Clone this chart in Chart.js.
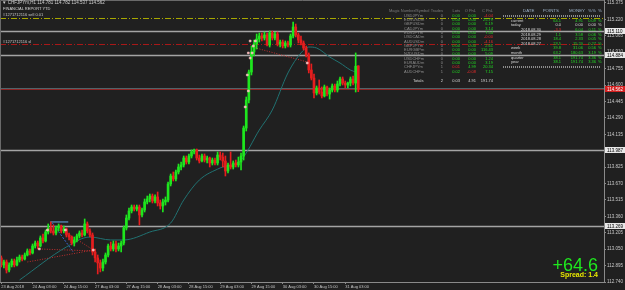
<!DOCTYPE html>
<html>
<head>
<meta charset="utf-8">
<script src="https://cdn.jsdelivr.net/npm/chart.js@4.4.0/dist/chart.umd.min.js"></script>
<style>
  html, body { margin:0; padding:0; background:#202020; }
  #wrap { position:relative; width:625px; height:290px; overflow:hidden; font-family:"Liberation Sans", Arial, sans-serif; }
  #wrap canvas { position:absolute; left:0; top:0; }
  .t { position:absolute; white-space:nowrap; line-height:1; }
  .sep { position:absolute; height:2px; background:repeating-linear-gradient(90deg, #8c8c8c 0 1px, transparent 1px 2px); }
</style>
</head>
<body>
<div id="wrap"><canvas id="chart" width="625" height="290"></canvas></div>
<script>
// ---- data ----
const tickLabels = ['23 Aug 2018','24 Aug 03:00','24 Aug 15:00','27 Aug 03:00','27 Aug 15:00','28 Aug 03:00',
                    '28 Aug 15:00','29 Aug 03:00','29 Aug 15:00','30 Aug 03:00','30 Aug 15:00','31 Aug 03:00'];
const labelBars = [0,12,24,36,48,60,72,84,96,108,120,132];
const priceTicks = [115.375,115.220,115.065,114.910,114.755,114.600,114.445,114.290,114.135,113.980,
                    113.825,113.670,113.515,113.360,113.205,113.050,112.895,112.740];

const opens = [112.967,112.901,112.929,112.853,112.901,112.938,112.901,112.948,112.976,112.957,
  112.995,113.033,113.014,113.080,113.108,113.080,113.156,113.127,113.212,113.250,
  113.222,113.203,113.250,113.269,113.222,113.241,113.184,113.165,113.108,113.137,
  113.175,113.203,113.184,113.288,113.222,113.184,113.023,112.967,112.920,112.872,
  112.929,112.995,113.080,113.052,113.099,113.052,113.080,113.108,113.250,113.344,
  113.411,113.448,113.429,113.448,113.373,113.420,113.496,113.524,113.552,113.505,
  113.543,113.486,113.458,113.496,113.514,113.666,113.741,113.713,113.779,113.826,
  113.845,113.911,113.873,113.930,113.968,113.987,113.911,113.883,113.930,113.892,
  113.911,113.864,113.892,113.864,113.939,113.920,113.883,113.788,113.845,113.826,
  113.864,113.845,113.873,113.930,114.194,114.459,114.723,114.912,114.988,115.035,
  115.063,115.044,115.073,114.978,115.091,115.044,115.082,114.988,115.006,114.969,
  114.997,114.978,115.063,115.148,115.073,115.025,114.997,114.950,114.884,114.742,
  114.666,114.525,114.572,114.534,114.497,114.582,114.515,114.553,114.591,114.553,
  114.610,114.657,114.619,114.600,114.619,114.657,114.619,114.781];
const highs = [112.986,112.948,112.948,112.920,112.957,112.957,112.976,112.995,112.995,113.014,
  113.052,113.052,113.099,113.127,113.127,113.175,113.193,113.231,113.288,113.307,
  113.278,113.269,113.288,113.278,113.269,113.250,113.203,113.175,113.165,113.193,
  113.222,113.231,113.335,113.307,113.241,113.203,113.052,112.995,112.948,112.957,
  113.014,113.099,113.118,113.127,113.127,113.108,113.127,113.269,113.373,113.439,
  113.467,113.467,113.467,113.467,113.439,113.524,113.552,113.571,113.571,113.562,
  113.590,113.514,113.524,113.543,113.684,113.760,113.779,113.798,113.854,113.873,
  113.930,113.930,113.949,113.987,113.996,113.996,113.939,113.949,113.949,113.930,
  113.920,113.911,113.911,113.968,113.968,113.958,113.930,113.864,113.968,113.883,
  113.892,113.920,113.958,114.213,114.487,114.742,114.969,115.025,115.082,115.091,
  115.091,115.101,115.091,115.110,115.110,115.101,115.101,115.025,115.025,115.016,
  115.016,115.082,115.195,115.176,115.091,115.063,115.016,114.969,114.903,114.799,
  114.704,114.591,114.648,114.582,114.600,114.591,114.572,114.610,114.610,114.638,
  114.676,114.676,114.638,114.629,114.676,114.685,114.903,114.782];
const lows = [112.882,112.872,112.825,112.835,112.882,112.882,112.891,112.929,112.938,112.948,
  112.986,112.995,113.005,113.061,113.052,113.071,113.108,113.118,113.193,113.203,
  113.184,113.184,113.222,113.203,113.203,113.165,113.137,113.090,113.080,113.118,
  113.156,113.165,113.175,113.203,113.165,112.995,112.929,112.816,112.835,112.844,
  112.910,112.976,113.033,113.033,113.023,113.033,113.023,113.090,113.231,113.326,
  113.392,113.411,113.411,113.278,113.354,113.401,113.477,113.496,113.486,113.486,
  113.458,113.429,113.401,113.467,113.496,113.647,113.694,113.694,113.760,113.798,
  113.826,113.854,113.854,113.911,113.949,113.892,113.864,113.873,113.873,113.864,
  113.826,113.845,113.845,113.845,113.892,113.826,113.741,113.769,113.807,113.807,
  113.826,113.826,113.798,113.892,114.166,114.430,114.695,114.874,114.940,115.006,
  115.016,115.025,114.969,114.959,115.025,115.025,114.969,114.959,114.950,114.950,
  114.959,114.959,115.044,115.054,114.997,114.978,114.931,114.865,114.714,114.648,
  114.478,114.506,114.515,114.478,114.487,114.497,114.468,114.534,114.534,114.534,
  114.591,114.600,114.572,114.572,114.591,114.600,114.534,114.537];
const closes = [112.901,112.929,112.853,112.901,112.938,112.901,112.948,112.976,112.957,112.995,
  113.033,113.014,113.080,113.108,113.080,113.156,113.127,113.212,113.250,113.222,
  113.203,113.250,113.269,113.222,113.241,113.184,113.165,113.108,113.137,113.175,
  113.203,113.184,113.288,113.222,113.184,113.023,112.967,112.920,112.872,112.929,
  112.995,113.080,113.052,113.099,113.052,113.080,113.108,113.250,113.344,113.411,
  113.448,113.429,113.448,113.373,113.420,113.496,113.524,113.552,113.505,113.543,
  113.486,113.458,113.496,113.514,113.666,113.741,113.713,113.779,113.826,113.845,
  113.911,113.873,113.930,113.968,113.987,113.911,113.883,113.930,113.892,113.911,
  113.864,113.892,113.864,113.939,113.920,113.883,113.788,113.845,113.826,113.864,
  113.845,113.873,113.930,114.194,114.459,114.723,114.912,114.988,115.035,115.063,
  115.044,115.073,114.978,115.091,115.044,115.082,114.988,115.006,114.969,114.997,
  114.978,115.063,115.148,115.073,115.025,114.997,114.950,114.884,114.742,114.666,
  114.525,114.572,114.534,114.497,114.582,114.515,114.553,114.591,114.553,114.610,
  114.657,114.619,114.600,114.619,114.657,114.619,114.778,114.562];

// moving average, read at a few bars
const maBars   = [7, 25, 34, 42, 47, 57, 65, 70, 76, 84, 92, 99, 104, 110, 115, 118, 121, 126, 130, 134, 137];
const maValues = [112.759,113.071,113.165,113.137,113.137,113.212,113.297,113.514,113.703,113.817,113.892,
                  114.175,114.364,114.714,114.903,114.959,114.950,114.865,114.808,114.742,114.714];

// horizontal levels
const sellOrder = 115.233, stopLoss = 114.988;
const hLevels = [115.110, 114.884, 113.987, 113.269];
const bid = 114.562, ask = 114.576;

// closed trades: [bar, price, bar, price]
const lossLines = [[14.6,113.052,35.3,113.033],[10.0,112.929,35.3,113.042],[24.6,113.212,35.3,113.042],[96.3,114.959,117.4,114.818]];
const buyLines = [[19.6,113.297,27.6,113.023]];
const flatLines = [[18.8,113.307,25.7,113.307]];
const markBars   = [14.6,17.7,24.6,35.3,93.6,94.8,94.4,95.5,96.3,94.8,96.7,95.5,97.5,117.4];
const markPrices = [113.052,113.231,113.231,113.042,114.393,114.544,114.695,114.855,114.903,114.903,114.969,115.016,115.016,114.808];

// report tables
const symbols = ['USDJPYm','EURUSDm','GBPUSDm','CADJPYm','EURJPYm','USDCADm','AUDUSDm','GBPJPYm','EURGBPm','NZDUSDm','USDCHFm','EURAUDm','CHFJPYm','AUDCHFm'];
const trades = [0,0,0,0,0,0,0,0,0,0,0,0,1,1];
const lots = [0,0,0,0,0,0,0,0,0,0,0,0,0.01,0.02];
const lotSide = ['','','','','','','','','','','','','sell','buy'];
const openPnl = [0,0,0,0,0,0,0,0,0,0,0,0,4.99,-0.08];
const closedPnl = [-4.04,25.79,6.19,3.14,7.54,-0.001,-4.16,2.61,116.43,5.09,1.24,3.19,20.34,7.15];
const totals = ['Totals','2','0.03','4.91','191.74'];

const periods = ['current','today','2018.08.30','2018.08.29','2018.08.28','2018.08.27','week','month','quarter','year'];
const points = [64.1,0.0,-3.3,1.1,18.4,23.5,39.8,63.2,38.1,38.1];
const money = [4.91,0.00,6.04,3.58,2.33,15.20,31.06,180.63,191.74,191.74];
const percent = [0.09,0.00,0.11,0.06,0.05,0.27,0.56,3.19,3.36,3.36];

const profitPoints = '+64.6';
const spread = 'Spread: 1.4';

// ---- drawing ----
const FONT = '"Liberation Sans", Arial, sans-serif';
const BULL = '#1ee61e', BEAR = '#e61e1e';
const bars = opens.map((_, i) => i);
const candleColor = c => (c.dataIndex !== undefined && closes[c.dataIndex] < opens[c.dataIndex]) ? BEAR : BULL;
const seg = (a, color, dash) => ({
  type: 'line', data: [{x: a[0], y: a[1]}, {x: a[2], y: a[3]}],
  borderColor: color, borderWidth: 1, borderDash: dash, pointRadius: 0, order: 5
});
// no extra room for overflowing tick labels, MT4 style
const noPad = s => { s.paddingTop = 0; s.paddingBottom = 0; s.paddingLeft = 0; s.paddingRight = 0; };

const levelsPlugin = {
  id: 'levels',
  beforeDatasetsDraw(chart) {
    const {ctx, chartArea: a, scales: {y}} = chart;
    const hl = (p, color, w, dash) => {
      const py = Math.round(y.getPixelForValue(p)) + 0.5;
      ctx.save();
      ctx.strokeStyle = color; ctx.lineWidth = w; ctx.setLineDash(dash || []);
      ctx.beginPath(); ctx.moveTo(a.left, py); ctx.lineTo(a.right, py); ctx.stroke();
      ctx.restore();
    };
    hLevels.forEach(p => hl(p, '#a4a4a4', 1.5));
    hl(sellOrder, '#a8a800', 1, [6, 2, 1, 2]);
    hl(stopLoss, '#a81818', 1, [6, 2, 1, 2]);
    hl(ask, '#50646a', 1);
    hl(bid, '#8c2424', 1);
  },
  afterDraw(chart) {
    const {ctx, chartArea: a, scales: {y}} = chart;
    ctx.save();
    ctx.strokeStyle = '#6a6a6a'; ctx.lineWidth = 1;
    ctx.beginPath(); ctx.moveTo(0.5, a.bottom); ctx.lineTo(0.5, 0.5); ctx.lineTo(a.right, 0.5); ctx.stroke();
    ctx.font = '4.5px ' + FONT;
    ctx.textBaseline = 'middle';
    const box = (p, bg, fg) => {
      const py = Math.round(y.getPixelForValue(p));
      ctx.fillStyle = bg; ctx.fillRect(a.right + 1, py - 3, 20, 6);
      ctx.fillStyle = fg; ctx.fillText(p.toFixed(3), a.right + 3, py + 0.5);
    };
    hLevels.forEach(p => box(p, '#e8e8e8', '#000'));
    box(bid, '#d42020', '#fff');
    ctx.restore();
  }
};

new Chart(document.getElementById('chart'), {
  type: 'bar',
  data: {
    datasets: [
      { data: bars.map(i => ({x: i, y: [opens[i], closes[i]]})), backgroundColor: candleColor,
        barThickness: 2, minBarLength: 1, grouped: false, borderWidth: 0, order: 1 },
      { data: bars.map(i => ({x: i, y: [lows[i], highs[i]]})), backgroundColor: candleColor,
        barThickness: 1, grouped: false, borderWidth: 0, order: 2 },
      { type: 'line', data: markBars.map((b, i) => ({x: b, y: markPrices[i]})), showLine: false,
        pointStyle: 'rect', pointRadius: 1.3, pointHoverRadius: 1.3, backgroundColor: '#ff9c9c',
        borderColor: '#ffe0e0', borderWidth: 0.5, order: 0 },
      { type: 'line', data: maBars.map((b, i) => ({x: b, y: maValues[i]})), borderColor: '#217272',
        borderWidth: 1, pointRadius: 0, cubicInterpolationMode: 'monotone', order: 4 },
      ...lossLines.map(l => seg(l, '#c03030', [1, 1.5])),
      ...buyLines.map(l => seg(l, '#3a64d0', [2, 1.5])),
      ...flatLines.map(l => seg(l, '#6aaae8', []))
    ]
  },
  options: {
    responsive: false,
    animation: false,
    layout: { padding: 0, autoPadding: false },
    plugins: { legend: { display: false }, tooltip: { enabled: false } },
    scales: {
      x: {
        type: 'linear', min: -0.5, max: 231.3, offset: false,
        grid: { offset: false, drawOnChartArea: false, tickLength: 2, color: '#8a8a8a' },
        border: { display: true, color: '#8a8a8a' },
        afterBuildTicks: s => { s.ticks = labelBars.map(v => ({ value: v })); },
        afterFit: s => { s.height = 8; noPad(s); },
        ticks: { align: 'start', padding: 0, autoSkip: false, maxRotation: 0, color: '#c4c4c4',
                 font: { size: 4, family: FONT }, callback: v => tickLabels[labelBars.indexOf(v)] }
      },
      y: {
        position: 'right', min: 112.740, max: 115.403, beginAtZero: false,
        grid: { drawOnChartArea: false, tickLength: 2, color: '#8a8a8a' },
        border: { display: true, color: '#8a8a8a' },
        afterBuildTicks: s => { s.ticks = priceTicks.map(v => ({ value: v })); },
        afterFit: s => { s.width = 21; noPad(s); },
        ticks: { padding: 1, color: '#c8c8c8', font: { size: 4.5, family: FONT }, callback: v => v.toFixed(3) }
      }
    }
  },
  plugins: [levelsPlugin]
});

// ---- text overlay ----
const wrap = document.getElementById('wrap');
function put(txt, x, y, size, color, align, weight) {
  const d = document.createElement('div');
  d.className = 't';
  d.textContent = txt;
  d.style.fontSize = size + 'px';
  d.style.color = color;
  d.style.top = (y - size / 2) + 'px';
  if (align === 'right') d.style.right = (625 - x) + 'px'; else d.style.left = x + 'px';
  if (weight) d.style.fontWeight = weight;
  wrap.appendChild(d);
}
const GREEN = '#22d822', RED = '#e82a2a', GREY = '#8c8c8c', WHITE = '#d8d8d8';
const signColor = v => v > 0 ? GREEN : (v < 0 ? RED : GREEN);

put('\u25BC CHFJPYm,H1  114.781 114.782 114.537 114.562', 2, 3.5, 4.5, '#cfcfcf');
put('FINANCIAL REPORT YTD', 3, 8.5, 4, '#d8d8d8');
put('#1271712116 sell 0.01', 3, 15, 4, '#c8c8c8');
put('#1271712116 sl', 3, 41.5, 4, '#c8c8c8');

// open/closed pnl table
put('Magic Number/Symbol', 389, 11, 4, '#7c7c7c');
put('Trades', 443, 11, 4, '#7c7c7c', 'right');
put('Lots', 460, 11, 4, '#7c7c7c', 'right');
put('O PnL', 476, 11, 4, '#7c7c7c', 'right');
put('C PnL', 493, 11, 4, '#7c7c7c', 'right');
symbols.forEach((s, k) => {
  const ry = 15.7 + 4.3 * k;
  put(s, 404, ry, 4, GREY);
  put(String(trades[k]), 443, ry, 4, GREY, 'right');
  put(lots[k].toFixed(2), 460, ry, 4, lotSide[k] === 'sell' ? RED : GREEN, 'right');
  put(openPnl[k].toFixed(2), 476, ry, 4, signColor(openPnl[k]), 'right');
  put(closedPnl[k].toFixed(2), 493, ry, 4, signColor(closedPnl[k]), 'right');
});
put(totals[0], 413, 80.7, 4, WHITE);
put(totals[1], 443, 80.7, 4, WHITE, 'right');
put(totals[2], 460, 80.7, 4, WHITE, 'right');
put(totals[3], 476, 80.7, 4, WHITE, 'right');
put(totals[4], 493, 80.7, 4, WHITE, 'right');

// period report
const HEAD = '#9cb2c8';
put('DATE', 523, 11.5, 4.4, HEAD);
put('POINTS', 559, 11.5, 4.4, HEAD, 'right');
put('MONEY', 585, 11.5, 4.4, HEAD, 'right');
put('%%', 588, 11.5, 4.4, HEAD);
put('%', 598, 11.5, 4.4, HEAD);
periods.forEach((p, k) => {
  const ry = 20.7 + 4.6 * k;
  const isDate = /^\d/.test(p);
  put(p, isDate ? 521 : 511, ry, 4, WHITE);
  const zero = money[k] === 0 && points[k] === 0;
  put(points[k].toFixed(1), 561, ry, 4, zero ? WHITE : signColor(points[k]), 'right');
  put(money[k].toFixed(2), 583, ry, 4, zero ? WHITE : signColor(money[k]), 'right');
  put(percent[k].toFixed(2), 596, ry, 4, zero ? WHITE : signColor(percent[k]), 'right');
  put('%', 598, ry, 4, zero ? WHITE : GREEN);
});
[15, 66].forEach(t => {
  const s = document.createElement('div');
  s.className = 'sep';
  s.style.left = '503px'; s.style.top = t + 'px'; s.style.width = '97px';
  wrap.appendChild(s);
});

// big profit readout
put(profitPoints, 598, 264.6, 18, '#1ee81e', 'right');
put(spread, 598, 274.5, 7, '#e8e800', 'right', 'bold');
</script>
</body>
</html>
